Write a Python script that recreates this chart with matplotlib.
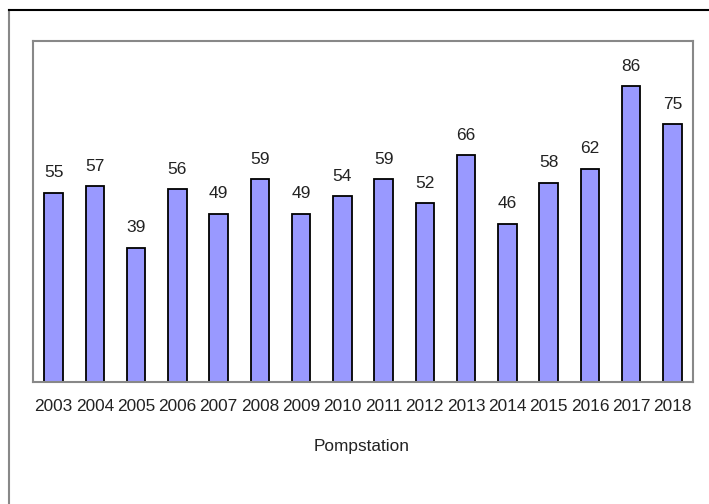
import numpy as np
import matplotlib.pyplot as plt
from matplotlib.lines import Line2D

years = ['2003', '2004', '2005', '2006', '2007', '2008', '2009', '2010',
         '2011', '2012', '2013', '2014', '2015', '2016', '2017', '2018']
values = [55, 57, 39, 56, 49, 59, 49, 54, 59, 52, 66, 46, 58, 62, 86, 75]

plt.rcParams['font.family'] = ['Liberation Sans', 'DejaVu Sans']

fig = plt.figure(figsize=(7.09, 5.04), dpi=100)
ax = fig.add_axes([33/709, 122/504, 660/709, 341/504])

x = np.arange(len(years))
ax.bar(x, values, width=0.45, color='#9999ff', edgecolor='black', linewidth=1.3)

for xi, v in zip(x, values):
    ax.annotate(str(v), (xi, v), xytext=(0, 9), textcoords='offset points',
                ha='center', va='bottom', fontsize=12.5, color='#222222')

ax.set_xlim(-0.5, len(years) - 0.5)
ax.set_ylim(0, 99.2)
ax.set_xticks(x)
ax.set_xticklabels(years, fontsize=12.4, color='#222222')
ax.tick_params(axis='x', length=0, pad=12)
ax.set_yticks([])
for s in ax.spines.values():
    s.set_color('#888888')
    s.set_linewidth(1.5)

fig.text(362/709, 1 - 447/504, 'Pompstation', ha='center', va='center',
         fontsize=12.4, color='#222222')

# outer frame of the chart
fig.add_artist(Line2D([9/709, 9/709], [0, 1 - 10/504], color='#888888', lw=1.5,
                      transform=fig.transFigure))
fig.add_artist(Line2D([9/709, 708/709], [1 - 10/504, 1 - 10/504], color='black', lw=1.5,
                      transform=fig.transFigure))

fig.savefig('out.png', dpi=100)
